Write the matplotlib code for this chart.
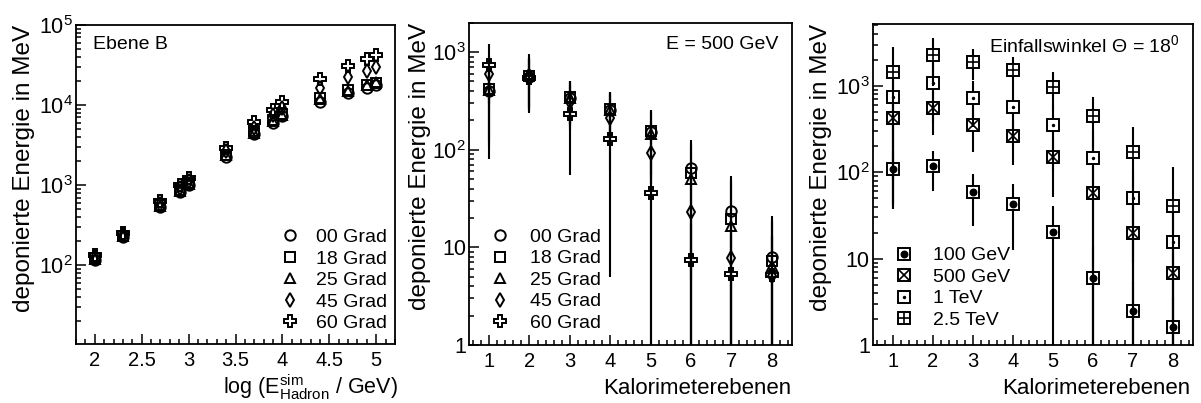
import numpy as np
import matplotlib
matplotlib.use("Agg")
import matplotlib.pyplot as plt
from matplotlib.ticker import MultipleLocator, LogLocator, NullFormatter, FixedLocator, FixedFormatter
from matplotlib.legend_handler import HandlerTuple

plt.rcParams["font.family"] = "Liberation Sans"
plt.rcParams["mathtext.fontset"] = "custom"
plt.rcParams["mathtext.rm"] = "Liberation Sans"
plt.rcParams["mathtext.it"] = "Liberation Sans:italic"
plt.rcParams["mathtext.bf"] = "Liberation Sans:bold"

# ---------------------------------------------------------------------------
# Data
# ---------------------------------------------------------------------------
angle_labels = ["00 Grad", "18 Grad", "25 Grad", "45 Grad", "60 Grad"]

# left panel: Ebene B, deposited energy vs. hadron energy
energies_gev = [100, 200, 500, 800, 1000, 2500, 5000, 8000, 10000, 25000, 50000, 80000, 100000]
ebene_b_00 = [118, 228, 540, 820, 1000, 2250, 4300, 6000, 7300, 11000, 14300, 16500, 17700]
ebene_b_18 = [122, 235, 560, 860, 1050, 2400, 4700, 6500, 7800, 12300, 15300, 17700, 19000]
ebene_b_25 = [120, 232, 555, 850, 1030, 2350, 4500, 6300, 7600, 11800, 14800, 18000, 19300]
ebene_b_45 = [128, 242, 590, 920, 1130, 2650, 5200, 7600, 9300, 16400, 22300, 26300, 29700]
ebene_b_60 = [135, 255, 630, 1000, 1230, 2950, 6100, 8700, 11000, 21300, 31200, 37600, 42200]

# middle panel: E = 500 GeV, deposited energy per layer
layers = [1, 2, 3, 4, 5, 6, 7, 8]
e500_00 = [400, 550, 335, 258, 152, 64.6, 23.3, 7.9]
e500_00_err = [320, 300, 166, 136, 102, 60, 31, 13]
e500_18 = [420, 575, 343, 262, 155, 57.4, 19.6, 7.2]
e500_18_err = [300, 300, 160, 130, 100, 60, 30, 12]
e500_25 = [410, 600, 340, 255, 145, 49.9, 16.4, 6.4]
e500_25_err = [300, 345, 160, 130, 100, 60, 30, 12]
e500_45 = [603, 570, 310, 212, 91.8, 22.8, 7.7, 5.1]
e500_45_err = [300, 300, 150, 150, 100, 30, 10, 8]
e500_60 = [743, 540, 231, 128, 35.9, 7.4, 5.3, 5.2]
e500_60_err = [457, 300, 176, 123, 50, 10, 8, 8]

# right panel: incidence angle 18 deg, different energies
energy_labels = ["100 GeV", "500 GeV", "1 TeV", "2.5 TeV"]
t18_100 = [108, 119, 59.6, 42.6, 20.2, 6.0, 2.5, 1.6]
t18_100_err = [70, 59, 36, 30, 20.4, 8, 3, 2]
t18_500 = [423, 561, 353, 264, 152, 57, 19.6, 6.9]
t18_500_err = [380, 291, 180, 142, 100, 60, 22, 8]
t18_1000 = [740, 1075, 733, 566, 353, 148, 51, 15.7]
t18_1000_err = [700, 700, 400, 350, 250, 150, 55, 20]
t18_2500 = [1466, 2287, 1914, 1532, 982, 453, 173, 41]
t18_2500_err = [1384, 1286, 746, 618, 457, 287, 164, 73]

YLABEL = "deponierte Energie in MeV"
angle_markers = [("o", 7.5), ("s", 7.0), ("^", 7.5), ("d", 7.0), ("P", 8.5)]


def style_axes(ax, yticks, yticklabels):
    """ROOT-like frame: ticks inside, bottom/left only."""
    for sp in ax.spines.values():
        sp.set_linewidth(1.3)
    ax.set_yscale("log")
    ax.yaxis.set_major_locator(FixedLocator(yticks))
    ax.yaxis.set_major_formatter(FixedFormatter(yticklabels))
    ax.yaxis.set_minor_locator(LogLocator(base=10, subs=np.arange(2, 10), numticks=20))
    ax.yaxis.set_minor_formatter(NullFormatter())
    ax.tick_params(which="both", direction="in", top=False, right=False, width=1.1)
    ax.tick_params(which="major", length=7.5)
    ax.tick_params(which="minor", length=3.8)
    ax.tick_params(axis="x", labelsize=14.5, pad=5)
    ax.tick_params(axis="y", labelsize=15.5, pad=2)


fig = plt.figure(figsize=(12.01, 4.03), dpi=100)
ax1 = fig.add_axes([0.0633, 0.1464, 0.2656, 0.7916])
ax2 = fig.add_axes([0.3905, 0.1439, 0.2687, 0.7998])
ax3 = fig.add_axes([0.7266, 0.1439, 0.2667, 0.7965])

# ---- left panel ------------------------------------------------------------
logE = np.log10(energies_gev)
handles = []
for vals, (m, ms) in zip([ebene_b_00, ebene_b_18, ebene_b_25, ebene_b_45, ebene_b_60], angle_markers):
    h, = ax1.plot(logE, vals, linestyle="none", marker=m, markersize=ms,
                  mfc="none", mec="black", mew=1.4)
    handles.append(h)
ax1.set_xlim(1.8, 5.2)
ax1.set_ylim(10.4, 1e5)
style_axes(ax1, [1e2, 1e3, 1e4, 1e5],
           [r"$\mathregular{10^{2}}$", r"$\mathregular{10^{3}}$",
            r"$\mathregular{10^{4}}$", r"$\mathregular{10^{5}}$"])
ax1.xaxis.set_minor_locator(MultipleLocator(0.1))
ax1.set_xticks([2, 2.5, 3, 3.5, 4, 4.5, 5], ["2", "2.5", "3", "3.5", "4", "4.5", "5"])
ax1.set_xlabel(r"log ($\mathregular{E^{sim}_{Hadron}}$ / GeV)", fontsize=15.5, loc="right")
ax1.xaxis.set_label_coords(1.01, -0.088)
ax1.set_ylabel(YLABEL, fontsize=17.5, loc="top")
ax1.yaxis.set_label_coords(-0.13, 1.0)
ax1.text(0.052, 0.924, "Ebene B", transform=ax1.transAxes, fontsize=14, va="baseline")
ax1.legend(handles, angle_labels, loc="upper left", bbox_to_anchor=(0.64, 0.362),
           frameon=False, fontsize=14, handlelength=1.0, handletextpad=0.85,
           labelspacing=0.2, borderpad=0, borderaxespad=0)

# ---- middle panel ----------------------------------------------------------
handles = []
for vals, errs, (m, ms) in zip([e500_00, e500_18, e500_25, e500_45, e500_60],
                               [e500_00_err, e500_18_err, e500_25_err, e500_45_err, e500_60_err],
                               angle_markers):
    ax2.errorbar(layers, vals, yerr=errs, fmt="none", ecolor="black", elinewidth=1.5, capsize=0)
    h, = ax2.plot(layers, vals, linestyle="none", marker=m, markersize=ms,
                  mfc="none", mec="black", mew=1.4)
    handles.append(h)
ax2.set_xlim(0.5, 8.5)
ax2.set_ylim(1, 2000)
style_axes(ax2, [1, 10, 100, 1000],
           ["1", "10", r"$\mathregular{10^{2}}$", r"$\mathregular{10^{3}}$"])
ax2.xaxis.set_major_locator(MultipleLocator(1))
ax2.xaxis.set_minor_locator(MultipleLocator(0.2))
ax2.set_xlabel("Kalorimeterebenen", fontsize=16, loc="right")
ax2.xaxis.set_label_coords(1.0, -0.102)
ax2.set_ylabel(YLABEL, fontsize=17.5, loc="top")
ax2.yaxis.set_label_coords(-0.117, 1.0)
ax2.text(0.9575, 0.917, "E = 500 GeV", transform=ax2.transAxes, fontsize=14,
         ha="right", va="baseline")
ax2.legend(handles, angle_labels, loc="upper left", bbox_to_anchor=(0.066, 0.362),
           frameon=False, fontsize=14, handlelength=1.0, handletextpad=1.05,
           labelspacing=0.2, borderpad=0, borderaxespad=0)

# ---- right panel -----------------------------------------------------------
inner_markers = [("o", 4.5, "black"), ("x", 6.5, "none"), (".", 2.5, "black"), ("+", 7.0, "none")]
handles = []
for vals, errs, (im, ims, ifc) in zip([t18_100, t18_500, t18_1000, t18_2500],
                                      [t18_100_err, t18_500_err, t18_1000_err, t18_2500_err],
                                      inner_markers):
    ax3.errorbar(layers, vals, yerr=errs, fmt="none", ecolor="black", elinewidth=1.5, capsize=0)
    hs, = ax3.plot(layers, vals, linestyle="none", marker="s", markersize=8.5,
                   mfc="white", mec="black", mew=1.4)
    hi, = ax3.plot(layers, vals, linestyle="none", marker=im, markersize=ims,
                   mfc=ifc, mec="black", mew=1.2)
    handles.append((hs, hi))
ax3.set_xlim(0.5, 8.5)
ax3.set_ylim(1, 5200)
style_axes(ax3, [1, 10, 100, 1000],
           ["1", "10", r"$\mathregular{10^{2}}$", r"$\mathregular{10^{3}}$"])
ax3.xaxis.set_major_locator(MultipleLocator(1))
ax3.xaxis.set_minor_locator(MultipleLocator(0.2))
ax3.set_xlabel("Kalorimeterebenen", fontsize=16, loc="right")
ax3.xaxis.set_label_coords(0.99, -0.102)
ax3.set_ylabel(YLABEL, fontsize=17.5, loc="top")
ax3.yaxis.set_label_coords(-0.126, 1.0)
ax3.text(0.959, 0.914, "Einfallswinkel \u0398 = 18$^{\\mathregular{0}}$", transform=ax3.transAxes,
         fontsize=14, ha="right", va="baseline")
ax3.legend(handles, energy_labels, loc="upper left", bbox_to_anchor=(0.067, 0.306),
           frameon=False, fontsize=14, handlelength=1.0, handletextpad=1.0,
           labelspacing=0.2, borderpad=0, borderaxespad=0,
           handler_map={tuple: HandlerTuple(ndivide=1, pad=0)})

fig.savefig("out.png", dpi=100)
plt.close(fig)
